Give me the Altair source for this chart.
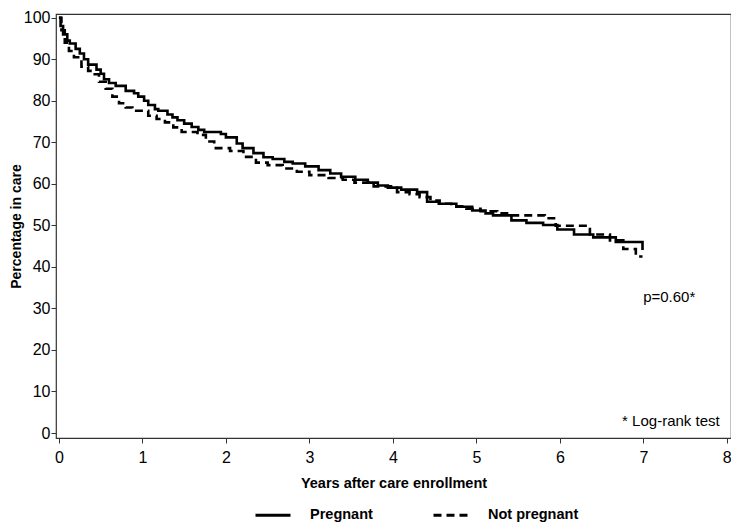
import altair as alt
import pandas as pd

# Kaplan-Meier style retention curves (percentage in care)
preg_t = [0, 0.02, 0.05, 0.1, 0.13, 0.2, 0.25, 0.3, 0.35, 0.45, 0.5, 0.54, 0.6, 0.68,
          0.8, 0.9, 0.95, 1.02, 1.07, 1.15, 1.19, 1.3, 1.36, 1.42, 1.5, 1.59, 1.67, 1.74,
          1.94, 2.0, 2.13, 2.2, 2.33, 2.45, 2.56, 2.7, 2.8, 2.95, 3.11, 3.25, 3.38, 3.55,
          3.7, 3.82, 3.94, 4.1, 4.29, 4.41, 4.55, 4.76, 4.95, 5.11, 5.2, 5.42, 5.6, 5.8,
          5.97, 6.17, 6.4, 6.67, 6.99]
preg_s = [100, 98, 96, 94.5, 93.8, 92.5, 91.4, 90, 88.7, 87.5, 86.5, 85.2, 84.3, 83.6,
          82.4, 81.8, 81, 80, 79, 78, 77.6, 76.7, 76, 75.3, 74.5, 73.7, 73, 72.5,
          72, 71.2, 69.7, 68.6, 67.4, 66.4, 66, 65.3, 64.9, 64.2, 63.3, 62.5, 61.7, 61,
          60.3, 59.6, 59.1, 58.6, 58, 55.7, 55.2, 54.5, 53.6, 52.9, 52.4, 51.2, 50.6, 50.1,
          49, 47.8, 47.1, 46, 44.1]

notp_t = [0, 0.03, 0.07, 0.12, 0.18, 0.27, 0.35, 0.41, 0.48, 0.56, 0.64, 0.72, 0.8, 0.88,
          1.07, 1.17, 1.27, 1.37, 1.47, 1.66, 1.76, 1.86, 2.05, 2.21, 2.36, 2.5, 2.68, 2.85,
          3.0, 3.23, 3.4, 3.54, 3.77, 4.05, 4.2, 4.32, 4.45, 4.56, 4.7, 4.88, 5.05, 5.25,
          5.4, 5.82, 5.95, 6.36, 6.6, 6.76, 6.91, 6.99]
notp_s = [100, 97, 94, 92, 90.5, 88.2, 87.2, 86.4, 84.6, 82.9, 81, 79.4, 78.4, 77.6,
          76.4, 75.6, 74.8, 73.6, 72.5, 71.8, 70.2, 68.6, 67.9, 66.5, 65.1, 64.5, 63.7, 62.9,
          62.1, 61.4, 61, 60.3, 59.4, 58, 57.5, 56.8, 56, 55.2, 54.6, 54, 53.4, 52.9,
          52.4, 51.7, 49.9, 47.8, 46.4, 44.3, 42.5, 42.5]

groups = ["Pregnant", "Not pregnant"]

note_text = ["p=0.60*", "* Log-rank test"]
note_x = [7.31, 7.33]
note_y = [32.8, 2.8]

df = pd.concat([
    pd.DataFrame({"t": preg_t, "s": preg_s, "g": groups[0]}),
    pd.DataFrame({"t": notp_t, "s": notp_s, "g": groups[1]}),
])
notes = pd.DataFrame({"text": note_text, "x": note_x, "y": note_y})

FONT = "Liberation Sans"

xscale = alt.Scale(domain=[-0.035, 8.05], nice=False, zero=False)
yscale = alt.Scale(domain=[-1.2, 100.9], nice=False, zero=False)

lines = alt.Chart(df).mark_line(interpolate="step-after", strokeWidth=2.6, color="black").encode(
    x=alt.X("t:Q", scale=xscale,
            axis=alt.Axis(values=list(range(0, 9)), format="d", title="Years after care enrollment",
                          titleFont=FONT, titleFontSize=14.5, titleFontWeight="bold",
                          titlePadding=11, labelFont=FONT, labelFontSize=16,
                          labelPadding=6, tickSize=5, grid=False, domain=False,
                          tickColor="#333", labelColor="black", titleColor="black")),
    y=alt.Y("s:Q", scale=yscale,
            axis=alt.Axis(values=list(range(0, 101, 10)), title="Percentage in care",
                          titleFont=FONT, titleFontSize=14, titleFontWeight="bold",
                          titlePadding=0, labelFont=FONT, labelFontSize=16,
                          labelPadding=1, tickSize=5, grid=False, domain=False,
                          tickColor="#333", labelColor="black", titleColor="black")),
    strokeDash=alt.StrokeDash("g:N", scale=alt.Scale(domain=groups, range=[[1, 0], [8, 5]]),
                              legend=alt.Legend(title=None, orient="none", direction="horizontal",
                                                legendX=198, legendY=482,
                                                symbolType="stroke", symbolSize=1225,
                                                symbolStrokeWidth=3, symbolStrokeColor="black",
                                                labelFont=FONT, labelFontSize=14.5,
                                                labelFontWeight="bold", labelColor="black",
                                                columnPadding=54, labelOffset=18)),
    detail="g:N",
)

text = alt.Chart(notes).mark_text(font=FONT, fontSize=15, color="black").encode(
    x=alt.X("x:Q", scale=xscale),
    y=alt.Y("y:Q", scale=yscale),
    text="text:N",
)

chart = alt.layer(lines, text).properties(
    width=675, height=424,
    background="white",
    autosize=alt.AutoSizeParams(type="none"),
    padding={"left": 48, "top": 6, "right": 0, "bottom": 84},
).configure_view(stroke="#333333", strokeWidth=1.2)

chart.save("out.html", embed_options={"renderer": "svg", "actions": False})
